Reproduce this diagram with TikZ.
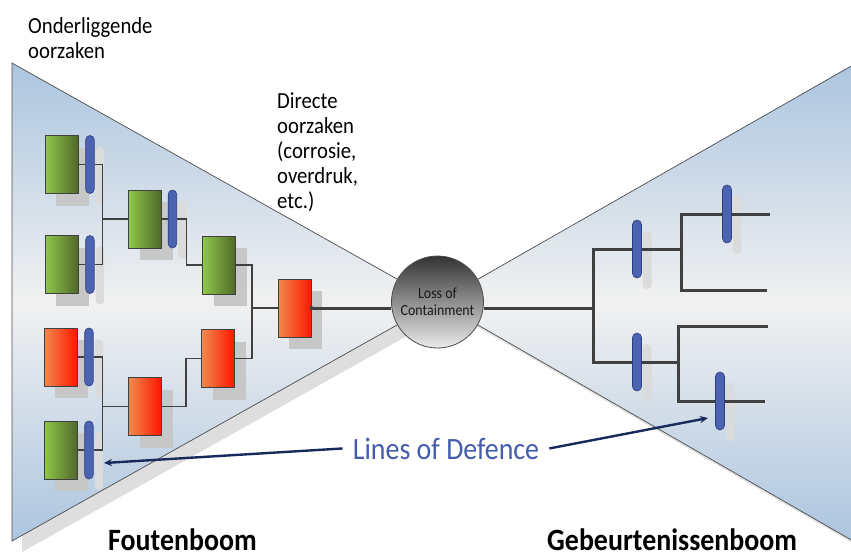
\documentclass[tikz,border=0pt]{standalone}
\usepackage{fontspec}
\setmainfont{Carlito}[FakeStretch=0.9]
\usetikzlibrary{positioning,shadows,arrows.meta}

\definecolor{bowblue}{RGB}{172,197,223}
\definecolor{bowmid}{RGB}{241,241,241}
\definecolor{barblue}{RGB}{76,99,178}
\definecolor{bardark}{RGB}{47,62,128}
\definecolor{okleft}{RGB}{142,200,74}
\definecolor{okright}{RGB}{80,104,42}
\definecolor{badleft}{RGB}{240,138,78}
\definecolor{badright}{RGB}{255,22,0}
\definecolor{lodtext}{RGB}{68,92,172}
\definecolor{lodline}{RGB}{24,42,92}
\definecolor{treeline}{RGB}{64,64,64}

\newcommand{\notefont}{\fontsize{23}{25}\selectfont}
\newcommand{\bigfont}{\fontsize{31}{31}\selectfont}

\begin{document}
\begin{tikzpicture}[x=1pt,y=-1pt,
    cause/.style={rectangle,draw=black!75,line width=0.8pt,minimum width=33pt,
        minimum height=58pt,inner sep=0pt,
        drop shadow={shadow xshift=11pt,shadow yshift=-12pt,fill=black!22,opacity=1}},
    okcause/.style={cause,left color=okleft,right color=okright},
    badcause/.style={cause,left color=badleft,right color=badright},
    barrier/.style={rectangle,rounded corners=4.25pt,draw=bardark,line width=0.6pt,
        fill=barblue,minimum width=8.5pt,minimum height=58pt,inner sep=0pt,
        drop shadow={shadow xshift=10pt,shadow yshift=-11pt,fill=black!14,opacity=1}},
    branch/.style={draw=treeline,line width=1.3pt},
    trunk/.style={draw=treeline,line width=3pt},
    lodarrow/.style={draw=lodline,line width=2.4pt,-{Stealth[length=8pt,width=7pt]}},
    note/.style={anchor=north west,align=left,inner sep=0pt,font=\notefont},
    treename/.style={anchor=base west,inner sep=0pt,font=\bigfont\bfseries}]
    \useasboundingbox (0,0) rectangle (851,558);

    % bow-tie
    \coordinate (ltop) at (12,63);
    \coordinate (lbot) at (12,541);
    \coordinate (apex) at (438,302);
    \coordinate (rtop) at (853,65);
    \coordinate (rbot) at (853,541);
    \fill[black!13] (22,74) -- (22,552) -- (448,313) -- cycle;
    \fill[black!12] (441,306) -- (856,545) -- (856,70) -- cycle;
    \shadedraw[top color=bowblue,bottom color=bowblue,middle color=bowmid,
        draw=black!70,line width=0.7pt] (ltop) -- (lbot) -- (apex) -- cycle;
    \shadedraw[top color=bowblue,bottom color=bowblue,middle color=bowmid,
        draw=black!70,line width=0.7pt] (rtop) -- (rbot) -- (apex) -- cycle;

    \node[note] (under) at (28,17) {Onderliggende\\oorzaken};
    \node[note] (direct) at (277,92) {Directe\\oorzaken\\(corrosie,\\overdruk,\\etc.)};

    % fault tree
    \node[okcause] (a1) at (61.5,164.5) {};
    \node[barrier,right=7pt of a1] (pa1) {};
    \node[okcause] (a2) at (61.5,264.5) {};
    \node[barrier,right=7pt of a2] (pa2) {};
    \node[badcause] (a3) at (60.5,357) {};
    \node[barrier,right=7pt of a3] (pa3) {};
    \node[okcause] (a4) at (60.5,450) {};
    \node[barrier,right=7pt of a4] (pa4) {};
    \node[okcause] (b1) at (145,219) {};
    \node[barrier,right=6pt of b1] (pb1) {};
    \node[badcause] (b2) at (145,406.5) {};
    \node[okcause] (c1) at (219,265) {};
    \node[badcause] (c2) at (218,358.5) {};
    \node[badcause] (d) at (294.5,308) {};

    \coordinate (ab) at (102.5,219);
    \coordinate (ab2) at (102.5,406.5);
    \coordinate (cd) at (252,308);
    \draw[branch] (a1.east) -- (pa1.west) (a2.east) -- (pa2.west)
        (a3.east) -- (pa3.west) (a4.east) -- (pa4.west) (b1.east) -- (pb1.west);
    \draw[branch] (pa1.east) -| (ab) |- (pa2.east);
    \draw[branch] (ab) -- (b1.west);
    \draw[branch] (pa3.east) -| (ab2) |- (pa4.east);
    \draw[branch] (ab2) -- (b2.west);
    \draw[branch] (pb1.east) -- ++(9.5,0) |- (c1.west);
    \draw[branch] (b2.east) -- ++(24,0) |- (c2.west);
    \draw[branch] (c1.east) -| (cd) |- (c2.east);
    \draw[branch] (cd) -- (d.west);

    % top event
    \node[circle,minimum size=92pt,inner sep=0pt,top color=black!80,bottom color=black!8,
        draw=black!70,line width=0.8pt,align=center,text=black!90,
        font=\fontsize{15.5}{17}\selectfont] (loc) at (437.5,302) {Loss of\\Containment};
    \draw[trunk] (d.east) -- (d.east -| loc.west);
    \fill[treeline] (d.east) circle (2pt);

    % event tree
    \node[barrier,minimum width=9pt,rounded corners=4.5pt] (p1) at (637,249) {};
    \node[barrier,minimum width=9pt,rounded corners=4.5pt] (p2) at (727,214) {};
    \node[barrier,minimum width=9pt,rounded corners=4.5pt] (p3) at (637,362) {};
    \node[barrier,minimum width=9pt,rounded corners=4.5pt] (p4) at (720,401) {};
    \coordinate (j0) at (593,308);
    \coordinate (j1) at (681,249);
    \coordinate (j2) at (678,362);
    \coordinate (e1) at (770,214);
    \coordinate (e2) at (767,290);
    \coordinate (e3) at (768,326);
    \coordinate (e4) at (765,401);
    \draw[trunk] (loc.east |- j0) -- (j0);
    \draw[trunk] (p1.west) -| (j0) |- (p3.west);
    \draw[trunk] (p1.east) -- (j1);
    \draw[trunk] (p2.west) -| (j1 |- e2) -- (e2);
    \draw[trunk] (p2.east) -- (e1);
    \draw[trunk] (p3.east) -- (j2);
    \draw[trunk] (e3) -| (j2 |- p4) -- (p4.west);
    \draw[trunk] (p4.east) -- (e4);

    % barriers
    \node[font=\bigfont,text=lodtext,anchor=base,inner xsep=10pt] (lod) at (446,459) {Lines of Defence};
    \coordinate (tipl) at (104,463);
    \coordinate (tipr) at (708,418);
    \draw[lodarrow] (lod.west) -- (tipl);
    \draw[lodarrow] (lod.east) -- (tipr);

    \node[treename] (ftree) at (108,550) {Foutenboom};
    \node[treename] (etree) at (547,550) {Gebeurtenissenboom};
\end{tikzpicture}
\end{document}
